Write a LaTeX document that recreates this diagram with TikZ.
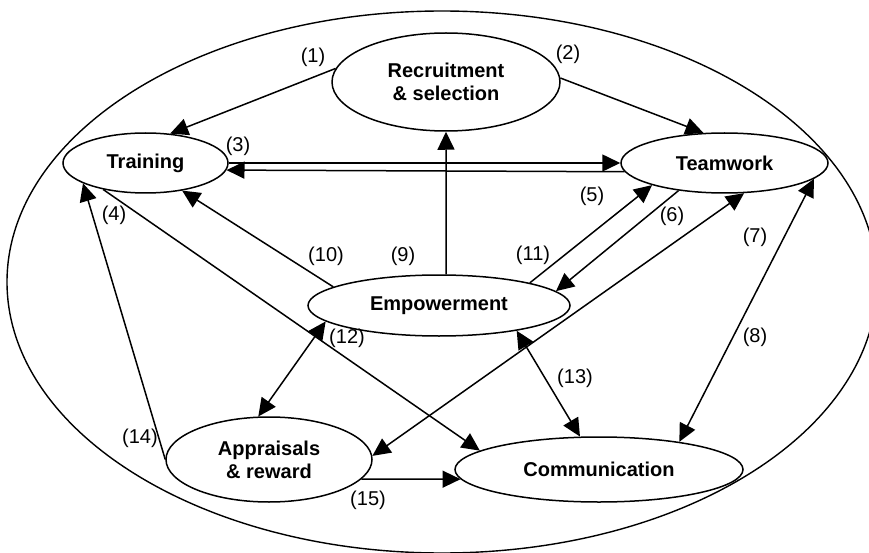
\documentclass[tikz,border=0pt]{standalone}
\usepackage{fontspec}
\setmainfont{Liberation Sans}
\usetikzlibrary{arrows.meta,shapes.geometric}
\begin{document}
\begin{tikzpicture}[x=1pt,y=-1pt,
  box/.style={ellipse,draw,line width=1.5pt,inner sep=0pt,align=center,
              font=\fontsize{20}{23}\selectfont\bfseries},
  lbl/.style={font=\fontsize{20}{23}\selectfont,inner sep=0pt},
  link/.style={line width=1.5pt,-{Triangle[length=18pt,width=17pt]}},
  both/.style={line width=1.5pt,{Triangle[length=18pt,width=17pt]}-{Triangle[length=18pt,width=17pt]}},
]
\useasboundingbox (0,0) rectangle (869,553);
\draw[line width=1.4pt] (442,282) ellipse [x radius=435, y radius=271];

\node[box, minimum width=228pt, minimum height=98pt] (rec) at (446,82) {Recruitment\\\& selection};
\node[box, minimum width=165pt, minimum height=60pt] (trn) at (145.5,163) {Training};
\node[box, minimum width=207pt, minimum height=60pt] (tmw) at (724.5,163) {Teamwork};
\node[box, minimum width=262pt, minimum height=61pt] (emp) at (439,305.5) {Empowerment};
\node[box, minimum width=206pt, minimum height=85pt] (app) at (269,459.5) {Appraisals\\\& reward};
\node[box, minimum width=288pt, minimum height=65pt] (com) at (599,469.5) {Communication};

\draw[link] (rec.173.3) -- (trn.50.8);
\draw[link] (rec.2) -- (tmw.125.6);
\draw[link] (trn.east) -- (tmw.west);
\draw[link] (tmw.-175.4) -- (trn.-5.7);
\draw[link] (emp.77.1) -- (rec.south);
\draw[link] (emp.170.2) -- (trn.-37.2);
\draw[link] (trn.-148.8) -- (com.171.9);
\draw[link] (app.west) -- (trn.-162);
\draw[link] (emp.14.4) -- (tmw.-163.1);
\draw[link] (tmw.-149.4) -- (emp.7.8);
\draw[both] (app.2) -- (tmw.-57.2);
\draw[both] (tmw.-10.4) -- (com.19.3);
\draw[both] (emp.-172.5) -- (app.104.6);
\draw[both] (emp.-18.1) -- (com.120.5);
\draw[link] (app.-12.5) -- (com.-176.5);

\node[lbl] (l1) at (313,57) {(1)};
\node[lbl] (l2) at (568,54) {(2)};
\node[lbl] (l3) at (238,146) {(3)};
\node[lbl] (l4) at (114,215) {(4)};
\node[lbl] (l5) at (592,196) {(5)};
\node[lbl] (l6) at (672,216) {(6)};
\node[lbl] (l7) at (755,237) {(7)};
\node[lbl] (l8) at (755,337) {(8)};
\node[lbl] (l9) at (403,256) {(9)};
\node[lbl] (l10) at (326,256) {(10)};
\node[lbl] (l11) at (533,255) {(11)};
\node[lbl] (l12) at (347,338) {(12)};
\node[lbl] (l13) at (575,378) {(13)};
\node[lbl] (l14) at (140,438) {(14)};
\node[lbl] (l15) at (368,500) {(15)};
\end{tikzpicture}
\end{document}
